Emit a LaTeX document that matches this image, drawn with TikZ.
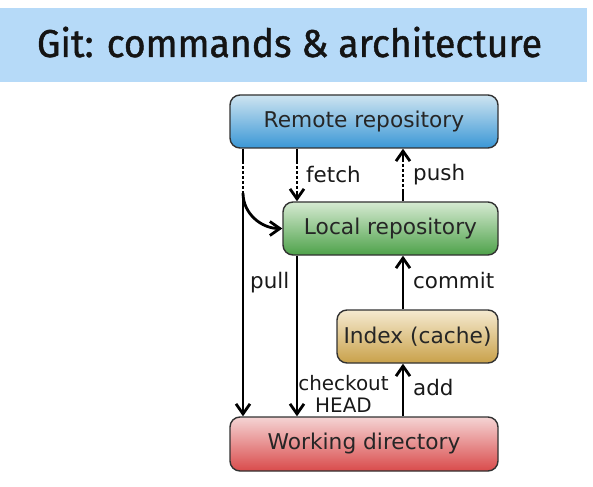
\documentclass[tikz,border=0pt]{standalone}
\usepackage{fontspec}
\usepackage{graphicx}
\setmainfont{DejaVu Sans}
\newfontfamily\titlefont{Fira Sans}[FakeBold=1.2]
\usetikzlibrary{arrows.meta}
\definecolor{banner}{RGB}{182,218,248}
\definecolor{blueT}{RGB}{206,228,240}
\definecolor{blueB}{RGB}{58,151,214}
\definecolor{greenT}{RGB}{214,234,210}
\definecolor{greenB}{RGB}{78,162,74}
\definecolor{tanT}{RGB}{245,234,208}
\definecolor{tanB}{RGB}{201,161,74}
\definecolor{redT}{RGB}{245,212,212}
\definecolor{redB}{RGB}{217,75,75}
\definecolor{boxline}{RGB}{50,50,50}
\begin{document}
\begin{tikzpicture}[x=1bp,y=-1bp,
  box/.style={draw=boxline, line width=1.4bp, rounded corners=10bp, inner sep=0pt,
    font=\fontsize{21.8}{26}\selectfont, text=black!85},
  conn/.style={line width=2.8bp, -{Straight Barb[length=10bp,width=14bp]}},
  lbl/.style={font=\fontsize{21.5}{25}\selectfont, inner sep=0pt, anchor=west, text=black!90},
  dotdown/.style={dash pattern=on 15bp off 2.5bp on 2.5bp off 2.5bp on 2.5bp off 2.5bp on 2.5bp off 2.5bp on 2.5bp off 2.5bp on 2.5bp off 2.5bp on 600bp},
  dotup/.style={dash pattern=on 12bp off 2.5bp on 2.5bp off 2.5bp on 2.5bp off 2.5bp on 2.5bp off 2.5bp on 2.5bp off 2.5bp on 2.5bp off 2.5bp on 600bp}]
\useasboundingbox (0,0) rectangle (593,487);
\fill[banner] (0,8) rectangle (587,82);
\node[inner sep=0pt, anchor=base, text=black!92, font=\titlefont\fontsize{39}{44}\selectfont] (title) at (289.5,57) {\scalebox{0.96}[1]{Git: commands \& architecture}};

\node[box, top color=blueT, bottom color=blueB, minimum width=268bp, minimum height=53bp] (remote) at (364,121.5) {Remote repository};
\node[box, top color=greenT, bottom color=greenB, minimum width=215bp, minimum height=53bp] (local) at (390.5,228.5) {Local repository};
\node[box, top color=tanT, bottom color=tanB, minimum width=161bp, minimum height=53bp] (index) at (417.5,336.5) {Index (cache)};
\node[box, top color=redT, bottom color=redB, minimum width=268bp, minimum height=54bp] (working) at (364,444) {Working directory};

\coordinate (xa) at (243,300);
\coordinate (xb) at (297,300);
\coordinate (xc) at (403,300);
\coordinate (pb) at (243,193);

\draw[conn, dotdown] (remote.south -| xa) -- (working.north -| xa);
\draw[conn] (pb) to[out=-90, in=180] (local.west);
\draw[conn, dotdown] (remote.south -| xb) -- (local.north -| xb);
\draw[conn] (local.south -| xb) -- (working.north -| xb);
\draw[conn, dotup] (local.north -| xc) -- (remote.south -| xc);
\draw[conn] (index.north -| xc) -- (local.south -| xc);
\draw[conn] (working.north -| xc) -- (index.south -| xc);

\node[lbl] (lfetch) at (306,175) {fetch};
\node[lbl] (lpush) at (413,175) {push};
\node[lbl] (lpull) at (250,283) {pull};
\node[lbl] (lcommit) at (413,281) {commit};
\node[lbl] (ladd) at (413,388) {add};
\node[inner sep=0pt, align=center, text=black!90, font=\fontsize{20}{22}\selectfont] (lcheck) at (343.5,394) {checkout\\HEAD};
\end{tikzpicture}
\end{document}
